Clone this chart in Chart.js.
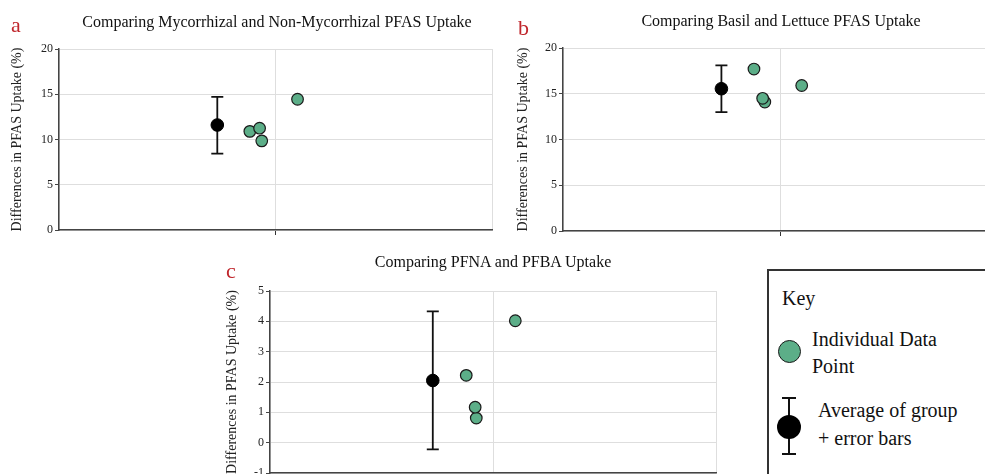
<!DOCTYPE html>
<html>
<head>
<meta charset="utf-8">
<script src="https://cdn.jsdelivr.net/npm/chart.js@4.4.1/dist/chart.umd.min.js"></script>
<style>
  html, body { margin: 0; padding: 0; background: #fff; }
  body { width: 985px; height: 474px; overflow: hidden; position: relative; font-family: "Liberation Serif", "Times New Roman", serif; }
  .panel { position: absolute; }
  .letter { position: absolute; color: #c0272d; font-size: 22px; line-height: 1; }
  .ttl { position: absolute; width: 500px; margin-left: -250px; text-align: center; font-size: 16px; line-height: 1; color: #111; white-space: nowrap; }
  #key { position: absolute; left: 767px; top: 269px; width: 240px; height: 230px; border: 2px solid #333; box-sizing: border-box; }
  #key span { position: absolute; font-size: 20px; line-height: 1; color: #111; white-space: nowrap; }
  .sym { position: absolute; border-radius: 50%; box-sizing: border-box; }
  .bar { position: absolute; background: #111; }
</style>
</head>
<body>
<canvas id="chartA" class="panel"></canvas>
<canvas id="chartB" class="panel"></canvas>
<canvas id="chartC" class="panel"></canvas>

<div class="letter" style="left:11px; top:14px;">a</div>
<div class="letter" style="left:518px; top:17px;">b</div>
<div class="letter" style="left:226px; top:260px;">c</div>

<div class="ttl" style="left:277px; top:14px;">Comparing Mycorrhizal and Non-Mycorrhizal PFAS Uptake</div>
<div class="ttl" style="left:781px; top:13px;">Comparing Basil and Lettuce PFAS Uptake</div>
<div class="ttl" style="left:493px; top:254px;">Comparing PFNA and PFBA Uptake</div>

<div id="key">
  <span style="left:13px; top:17px;">Key</span>
  <div class="sym" style="left:9px; top:69px; width:23px; height:23px; background:#5cae88; border:1.5px solid #1a1a1a;"></div>
  <span style="left:43px; top:58px;">Individual Data</span>
  <span style="left:43px; top:85px;">Point</span>
  <div class="bar" style="left:19px; top:126px; width:2px; height:58px;"></div>
  <div class="bar" style="left:13px; top:126px; width:14px; height:2px;"></div>
  <div class="bar" style="left:13px; top:182px; width:14px; height:2px;"></div>
  <div class="sym" style="left:8px; top:144px; width:24px; height:24px; background:#000;"></div>
  <span style="left:49px; top:129px;">Average of group</span>
  <span style="left:49px; top:157px;">+ error bars</span>
</div>

<script>
// panel a: mycorrhizal vs non-mycorrhizal
const aDotX = [0.88, 0.925, 0.935, 1.10];
const aDotY = [10.9, 11.25, 9.85, 14.45];
const aMeanX = [0.73];
const aMean = [11.6];
const aErrLow = [8.45];
const aErrHigh = [14.7];

// panel b: basil vs lettuce
const bDotX = [0.88, 0.93, 0.92, 1.10];
const bDotY = [17.7, 14.1, 14.5, 15.9];
const bMeanX = [0.73];
const bMean = [15.55];
const bErrLow = [13.0];
const bErrHigh = [18.1];

// panel c: PFNA vs PFBA
const cDotX = [0.88, 0.925, 0.92, 1.10];
const cDotY = [2.22, 0.81, 1.17, 4.02];
const cMeanX = [0.73];
const cMean = [2.05];
const cErrLow = [-0.22];
const cErrHigh = [4.33];

const yTitle = "Differences in PFAS Uptake (%)";
const serif = "'Liberation Serif', 'Times New Roman', serif";

// error bars drawn under the mean point, using the chart scales
const errorBars = {
  id: "errorBars",
  beforeDatasetsDraw(chart) {
    const { ctx, scales: { x, y } } = chart;
    chart.data.datasets.forEach(ds => {
      if (!ds.errLow) return;
      ds.data.forEach((p, i) => {
        const px = x.getPixelForValue(p.x);
        const top = y.getPixelForValue(ds.errHigh[i]);
        const bot = y.getPixelForValue(ds.errLow[i]);
        ctx.save();
        ctx.strokeStyle = "#111";
        ctx.lineWidth = 1.8;
        ctx.beginPath();
        ctx.moveTo(px, top); ctx.lineTo(px, bot);
        ctx.moveTo(px - 6, top); ctx.lineTo(px + 6, top);
        ctx.moveTo(px - 6, bot); ctx.lineTo(px + 6, bot);
        ctx.stroke();
        ctx.restore();
      });
    });
  }
};

function makePanel(id, opt) {
  const el = document.getElementById(id);
  el.width = opt.w; el.height = opt.h;
  el.style.left = opt.left + "px"; el.style.top = opt.top + "px";
  el.style.width = opt.w + "px"; el.style.height = opt.h + "px";
  const dots = opt.dotX.map((v, i) => ({ x: v, y: opt.dotY[i] }));
  const means = opt.meanX.map((v, i) => ({ x: v, y: opt.mean[i] }));
  return new Chart(el, {
    type: "scatter",
    data: {
      datasets: [
        { label: "Individual Data Point", data: dots, backgroundColor: "#5cae88", borderColor: "#1a1a1a", borderWidth: 1.2, pointRadius: 5.8, pointHoverRadius: 5.8 },
        { label: "Average of group", data: means, errLow: opt.errLow, errHigh: opt.errHigh, backgroundColor: "#000", borderColor: "#000", borderWidth: 1, pointRadius: 6.3, pointHoverRadius: 6.3 }
      ]
    },
    options: {
      responsive: false,
      animation: false,
      layout: { padding: { left: 0, right: opt.padRight, top: opt.padTop, bottom: 0 } },
      plugins: {
        legend: { display: false },
        tooltip: { enabled: false },
        title: { display: false }
      },
      scales: {
        x: {
          type: "linear", min: 0, max: 2,
          ticks: { display: false, stepSize: 1 },
          grid: { color: "#dedede", tickLength: 5, tickColor: c => (c.tick && c.tick.value === 1 ? "#333" : "rgba(0,0,0,0)") },
          border: { color: "#444", width: 1.5 },
          afterFit(s) { s.height = 15; }
        },
        y: {
          min: opt.yMin, max: opt.yMax,
          ticks: { stepSize: opt.yStep, color: "#222", padding: 2, font: { family: serif, size: 12 } },
          grid: { color: "#dedede", tickLength: 4, tickColor: "#444" },
          border: { color: "#444", width: 1.5 },
          title: { display: true, text: yTitle, color: "#222", font: { family: serif, size: 14 }, padding: { top: 8.5, bottom: 0 } },
          afterFit(s) { s.width = opt.yWidth; }
        }
      }
    },
    plugins: [errorBars]
  });
}

makePanel("chartA", {
  left: 0, top: 0, w: 500, h: 245, padRight: 7, padTop: 49, yWidth: 59,
  dotX: aDotX, dotY: aDotY, meanX: aMeanX, mean: aMean, errLow: aErrLow, errHigh: aErrHigh,
  yMin: 0, yMax: 20, yStep: 5
});
makePanel("chartB", {
  left: 506, top: 0, w: 499, h: 246, padRight: 8, padTop: 48, yWidth: 57,
  dotX: bDotX, dotY: bDotY, meanX: bMeanX, mean: bMean, errLow: bErrLow, errHigh: bErrHigh,
  yMin: 0, yMax: 20, yStep: 5
});
makePanel("chartC", {
  left: 215, top: 240, w: 510, h: 248, padRight: 9, padTop: 51, yWidth: 55,
  dotX: cDotX, dotY: cDotY, meanX: cMeanX, mean: cMean, errLow: cErrLow, errHigh: cErrHigh,
  yMin: -1, yMax: 5, yStep: 1
});
</script>
</body>
</html>
